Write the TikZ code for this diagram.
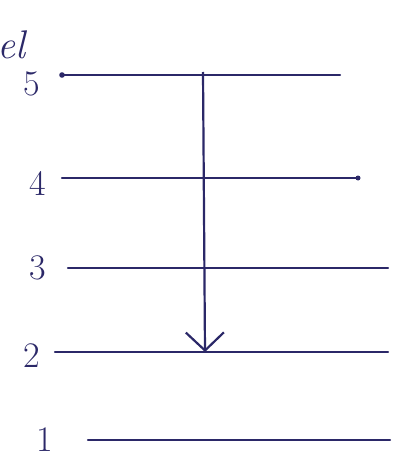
\documentclass[tikz,border=0pt]{standalone}
\usetikzlibrary{arrows.meta}
\definecolor{ink}{HTML}{2B2868}
\begin{document}
\begin{tikzpicture}[x=1pt,y=-1pt,
  lvl/.style={draw=ink,line width=2.2pt,line cap=round},
  num/.style={text=ink,font=\fontsize{36}{36}\selectfont,inner sep=0pt},
  trans/.style={draw=ink,line width=2.2pt,-{Straight Barb[length=18pt,width=38pt,line width=2.2pt]}}]
\useasboundingbox (0,0) rectangle (406,473);
\begin{scope}
\clip (0,0) rectangle (406,473);
\node[num,font=\fontsize{40}{40}\selectfont\itshape] (lab) at (12,45) {el};
\end{scope}
% levels
\coordinate (l5a) at (62,75);  \coordinate (l5b) at (340,75);
\coordinate (l4a) at (62,178); \coordinate (l4b) at (358,178);
\coordinate (l3a) at (68,268); \coordinate (l3b) at (388,268);
\coordinate (l2a) at (55,352); \coordinate (l2b) at (388,352);
\coordinate (l1a) at (88,440); \coordinate (l1b) at (390,440);
\draw[lvl] (l5a) -- (l5b);
\draw[lvl] (l4a) -- (l4b);
\draw[lvl] (l3a) -- (l3b);
\draw[lvl] (l2a) -- (l2b);
\draw[lvl] (l1a) -- (l1b);
\fill[ink] (l5a) circle (2.8pt);
\fill[ink] (l4b) circle (2.5pt);
\node[num] (n5) at (32,84) {5};
\node[num] (n4) at (38,183) {4};
\node[num] (n3) at (38,268) {3};
\node[num] (n2) at (32,356) {2};
\node[num] (n1) at (45,440) {1};
% transition
\coordinate (t5) at (203,72);
\coordinate (t2) at (205,352);
\draw[trans] (t5) -- (t2);
\end{tikzpicture}
\end{document}
